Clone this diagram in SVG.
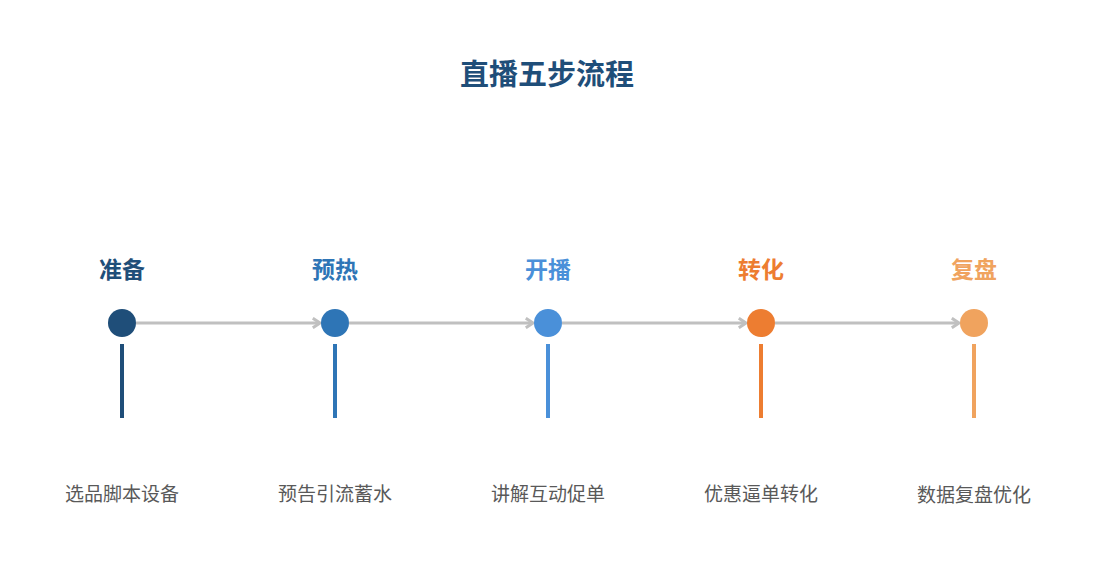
<svg xmlns="http://www.w3.org/2000/svg" width="1095" height="585" viewBox="0 0 1095 585">
<style>
.t{font-family:"Noto Sans CJK SC","Liberation Sans",sans-serif;text-anchor:middle}
.title{font-size:29px;font-weight:bold;fill:#1f4e79}
.h{font-size:23px;font-weight:bold}
.d{font-size:19px;fill:#595959}
.c{fill:none;stroke:#c0c0c0;stroke-width:3}
</style>
<defs>
<marker id="ar" viewBox="0 0 10 10" refX="8" refY="5" markerWidth="4" markerHeight="4" orient="auto" markerUnits="strokeWidth">
<path d="M2,1 L8,5 L2,9" fill="none" stroke="#c0c0c0" stroke-width="2.5"/>
</marker>
</defs>
<rect width="1095" height="585" fill="#ffffff"/>
<text class="t title" x="547" y="85">直播五步流程</text>
<g id="connectors">
<line class="c" x1="136" y1="323" x2="320" y2="323" marker-end="url(#ar)"/>
<line class="c" x1="349" y1="323" x2="533" y2="323" marker-end="url(#ar)"/>
<line class="c" x1="562" y1="323" x2="746" y2="323" marker-end="url(#ar)"/>
<line class="c" x1="775" y1="323" x2="959" y2="323" marker-end="url(#ar)"/>
</g>
<g id="n1">
<text class="t h" x="122" y="278" fill="#1f4e79">准备</text>
<circle cx="122" cy="323" r="14" fill="#1f4e79"/>
<rect x="120" y="344" width="4" height="74" fill="#1f4e79"/>
<text class="t d" x="122" y="501">选品脚本设备</text>
</g>
<g id="n2">
<text class="t h" x="335" y="278" fill="#2e75b6">预热</text>
<circle cx="335" cy="323" r="14" fill="#2e75b6"/>
<rect x="333" y="344" width="4" height="74" fill="#2e75b6"/>
<text class="t d" x="335" y="501">预告引流蓄水</text>
</g>
<g id="n3">
<text class="t h" x="548" y="278" fill="#4a90d9">开播</text>
<circle cx="548" cy="323" r="14" fill="#4a90d9"/>
<rect x="546" y="344" width="4" height="74" fill="#4a90d9"/>
<text class="t d" x="548" y="501">讲解互动促单</text>
</g>
<g id="n4">
<text class="t h" x="761" y="278" fill="#ed7d31">转化</text>
<circle cx="761" cy="323" r="14" fill="#ed7d31"/>
<rect x="759" y="344" width="4" height="74" fill="#ed7d31"/>
<text class="t d" x="761" y="501">优惠逼单转化</text>
</g>
<g id="n5">
<text class="t h" x="974" y="278" fill="#f0a35e">复盘</text>
<circle cx="974" cy="323" r="14" fill="#f0a35e"/>
<rect x="972" y="344" width="4" height="74" fill="#f0a35e"/>
<text class="t d" x="974" y="502">数据复盘优化</text>
</g>
</svg>
